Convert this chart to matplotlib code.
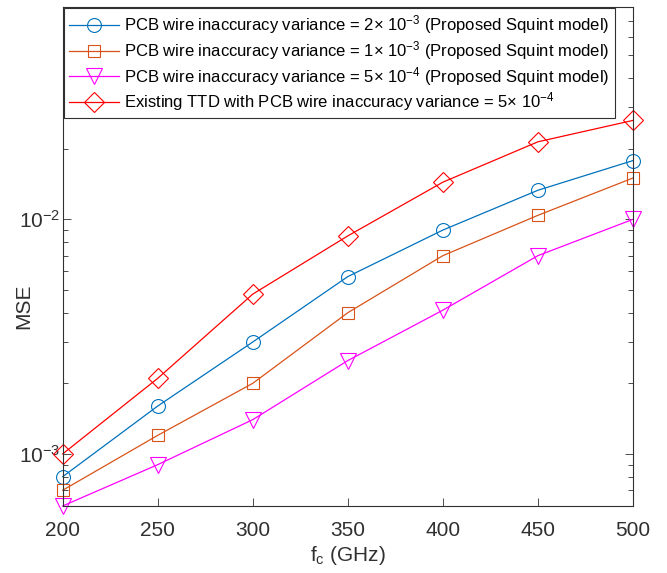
import matplotlib
matplotlib.use("Agg")
import matplotlib.pyplot as plt
from matplotlib.ticker import LogLocator, NullFormatter, FixedLocator

plt.rcParams["font.family"] = ["Liberation Sans", "DejaVu Sans"]
plt.rcParams["mathtext.fontset"] = "custom"
plt.rcParams["mathtext.rm"] = "Liberation Sans"
plt.rcParams["mathtext.it"] = "Liberation Sans"

fc_ghz = [200, 250, 300, 350, 400, 450, 500]

mse_var_2e3 = [8.0e-4, 1.6e-3, 3.0e-3, 5.7e-3, 9.0e-3, 1.33e-2, 1.78e-2]
mse_var_1e3 = [7.0e-4, 1.2e-3, 2.0e-3, 4.0e-3, 7.0e-3, 1.04e-2, 1.5e-2]
mse_var_5e4 = [6.0e-4, 9.0e-4, 1.4e-3, 2.5e-3, 4.1e-3, 7.0e-3, 1.0e-2]
mse_ttd_5e4 = [1.0e-3, 2.1e-3, 4.8e-3, 8.5e-3, 1.44e-2, 2.14e-2, 2.64e-2]

labels = [
    r"PCB wire inaccuracy variance = 2$\times$ 10$^{-3}$ (Proposed Squint model)",
    r"PCB wire inaccuracy variance = 1$\times$ 10$^{-3}$ (Proposed Squint model)",
    r"PCB wire inaccuracy variance = 5$\times$ 10$^{-4}$ (Proposed Squint model)",
    r"Existing TTD with PCB wire inaccuracy variance = 5$\times$ 10$^{-4}$",
]

series = [mse_var_2e3, mse_var_1e3, mse_var_5e4, mse_ttd_5e4]
colors = ["#0072BD", "#D95319", "#FF00FF", "#FF0000"]
markers = ["o", "s", "v", "D"]
sizes = [10, 8, 11, 10]

fig = plt.figure(figsize=(6.67, 5.73), dpi=100)
ax = fig.add_axes([0.094, 0.117, 0.855, 0.870])

for y, c, m, s, lab in zip(series, colors, markers, sizes, labels):
    ax.plot(fc_ghz, y, color=c, marker=m, markersize=s, markerfacecolor="none",
            markeredgewidth=0.8, linewidth=0.9, label=lab, clip_on=False)

ax.set_yscale("log")
ax.set_xlim(200, 500)
ax.set_ylim(6e-4, 8e-2)
ax.xaxis.set_major_locator(FixedLocator(fc_ghz))
ax.yaxis.set_major_locator(FixedLocator([1e-3, 1e-2]))
ax.yaxis.set_minor_locator(LogLocator(base=10, subs=range(2, 10)))
ax.yaxis.set_minor_formatter(NullFormatter())

frame = "#303030"
for sp in ax.spines.values():
    sp.set_color(frame)
    sp.set_linewidth(0.8)
ax.tick_params(which="both", direction="in", top=True, right=True, colors=frame,
               labelcolor=frame, labelsize=15, width=0.6)
ax.tick_params(which="major", length=6)
ax.tick_params(which="minor", length=3.5)
ax.tick_params(axis="x", pad=11)
ax.tick_params(axis="y", pad=2)

ax.set_xlabel(r"f$_\mathregular{c}$ (GHz)", fontsize=15, color=frame, labelpad=3)
ax.set_ylabel("MSE", fontsize=15, color=frame)
ax.yaxis.set_label_coords(-0.052, 0.40)

leg = ax.legend(loc="upper left", bbox_to_anchor=(0.0, 1.0), fontsize=11.95,
                handlelength=3.0, handletextpad=0.35, borderpad=0.32,
                labelspacing=0.16, borderaxespad=0.05, fancybox=False, framealpha=1)
leg.get_frame().set_edgecolor(frame)
leg.get_frame().set_linewidth(0.8)
for t in leg.get_texts():
    t.set_color("black")

fig.savefig("out.png", dpi=100)
